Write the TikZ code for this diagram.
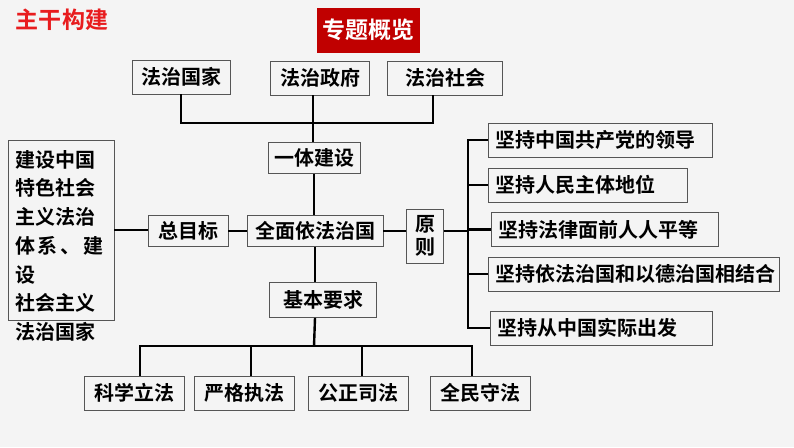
\documentclass[tikz,border=0pt]{standalone}
\usepackage{fontspec}
\setmainfont{Noto Sans CJK SC}[BoldFont={Noto Sans CJK SC Bold}]
\usetikzlibrary{positioning}
\usetikzlibrary{calc}
\definecolor{Bg}{RGB}{244,244,244}
\definecolor{Title}{RGB}{232,28,30}
\definecolor{DarkRed}{RGB}{192,0,0}
\definecolor{Edge}{RGB}{85,85,85}

\begin{document}
\begin{tikzpicture}[x=1pt, y=-1pt,
  box/.style={draw=Edge, line width=0.9pt, inner sep=0pt, minimum height=34pt,
    font=\fontsize{20}{24}\selectfont\bfseries},
  conn/.style={line width=2.4pt}]
\fill[Bg] (0,0) rectangle (794,447);
\useasboundingbox (0,0) rectangle (794,447);

\node[text=Title, font=\fontsize{23}{26}\selectfont\bfseries] at (62,20) (title) {主干构建};
\node[fill=DarkRed, text=white, minimum width=103pt, minimum height=45pt,
  font=\fontsize{23}{26}\selectfont\bfseries] at (368,30) (ztgl) {专题概览};

% top row
\node[box, minimum width=98pt] at (181,77) (fzgj) {法治国家};
\node[box, minimum width=99pt] at (320,78) (fzzf) {法治政府};
\node[box, minimum width=115pt] at (445,78) (fzsh) {法治社会};

% middle
\node[box, minimum width=92pt, minimum height=31pt] at (314,158) (ytjs) {一体建设};
\node[box, minimum width=136pt, minimum height=31pt] at (315,231) (qmyf) {全面依法治国};
\node[box, minimum width=80pt, minimum height=31pt] at (188,231) (zmb) {总目标};
\node[box, minimum width=107pt, minimum height=35pt] at (323,300) (jbyq) {基本要求};
\node[box, minimum width=37pt, minimum height=54pt, align=center,
  font=\fontsize{20}{23}\selectfont\bfseries] at (425,236) (yz) {原\\则};

% goal
\node[draw=Edge, line width=0.9pt, minimum width=106pt, minimum height=180pt] at (61,230) (mb) {};
\node[anchor=north west, inner sep=0pt, align=left,
  font=\fontsize{20}{28.7}\selectfont\bfseries] at (15,150) (mbtxt)
  {建设中国\\特色社会\\主义法治\\\makebox[88pt][s]{体\hfill 系\hfill 、\hfill 建}\\设\\社会主义\\法治国家};

% principles
\foreach \i/\x/\y/\w/\tw/\t in {1/488/140/224/210/坚持中国共产党的领导,
    2/488/185/199/185/坚持人民主体地位,
    3/491/229.5/227/213/坚持法律面前人人平等,
    4/488/274/291/277/坚持依法治国和以德治国相结合,
    5/490/328/222/208/坚持从中国实际出发}
  \node[box, anchor=west, minimum width=\w pt, inner xsep=7pt, text width=\tw pt, align=left]
    at (\x,\y) (r\i) {\t};

% requirements
\foreach \n/\x/\t in {kxlf/134/科学立法, ygzf/244/严格执法, gzsf/358/公正司法, qmsf/480/全民守法}
  \node[box, minimum width=100pt] at (\x,393) (\n) {\t};

% connectors
\coordinate (tb) at (313,123);
\coordinate (rb) at (468,231);
\coordinate (bb) at (314,346);

\draw[conn] (fzgj.south) |- (tb) -| ([xshift=-12pt]fzsh.south);
\draw[conn] (fzzf.south -| tb) -- (ytjs.north -| tb);
\draw[conn] (ytjs.south) -- (ytjs.south |- qmyf.north);
\draw[conn] (mb.east) -- (mb.east -| zmb.west);
\draw[conn] (zmb.east) -- (qmyf.west);
\draw[conn] (qmyf.east) -- (qmyf.east -| yz.west);

\draw[conn] (yz.east |- rb) -- (rb);
\draw[conn] (r1.west) -| (rb) |- (r5.west);
\foreach \i in {2,3,4}
  \draw[conn] (rb |- r\i.west) -- (r\i.west);

\draw[conn] (qmyf.south) -- (qmyf.south |- jbyq.north);
\draw[conn] (qmyf.south |- jbyq.south) -- (bb);
\draw[conn] ([xshift=6pt]kxlf.north) |- (bb) -| ([xshift=-8pt]qmsf.north);
\draw[conn] ([xshift=7pt]ygzf.north) -- ([xshift=7pt]ygzf.north |- bb);
\draw[conn] ([xshift=4pt]gzsf.north) -- ([xshift=4pt]gzsf.north |- bb);

\end{tikzpicture}
\end{document}
